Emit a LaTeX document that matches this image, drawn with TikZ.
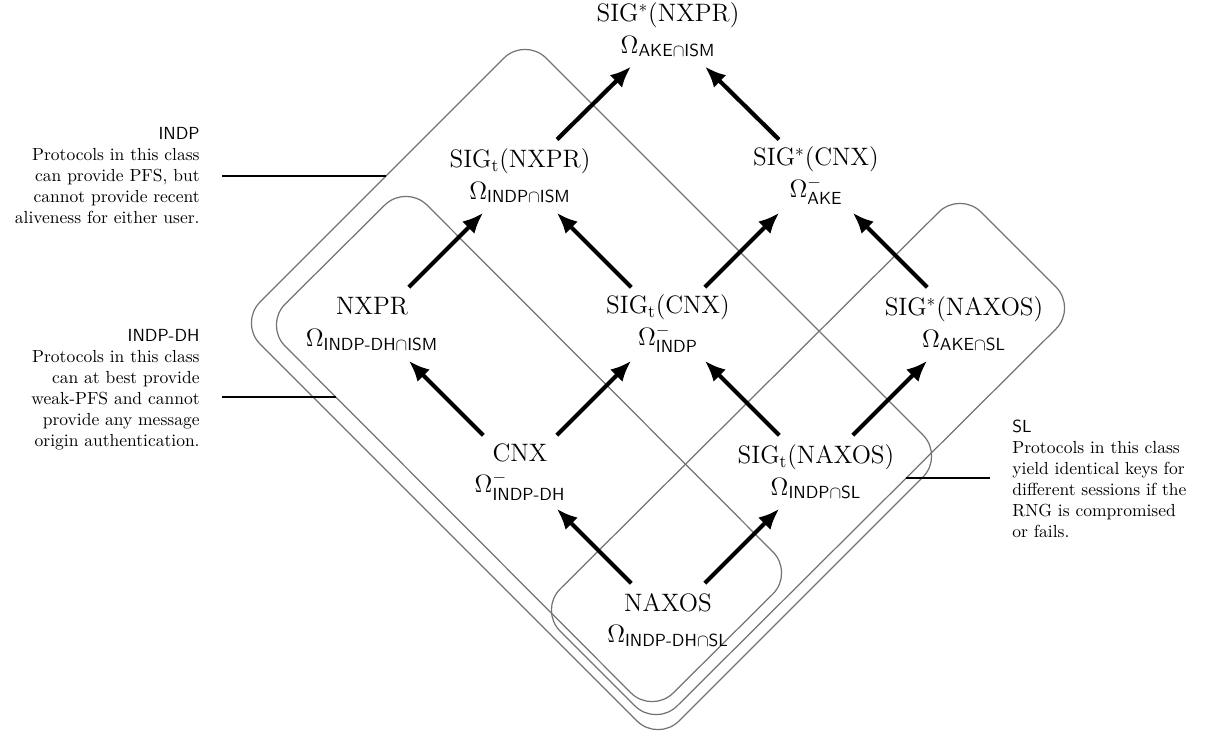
\documentclass[tikz,border=0pt]{standalone}
\usepackage{amsmath}
\usetikzlibrary{arrows.meta,calc}
\begin{document}
\begin{tikzpicture}[x=0.5714pt,y=-0.5714pt,
  pnode/.style={align=center,font=\Large,inner sep=0pt},
  arr/.style={line width=2.4pt,-{Latex[length=12pt,width=10pt]},shorten <=29.7pt,shorten >=29.7pt},
  region/.style={draw=black!55,line width=0.7pt,rounded corners=17.1pt},
  ann/.style={font=\normalsize,inner xsep=12.6pt,inner ysep=0pt},
  annline/.style={line width=1.2pt}]
\useasboundingbox (0,0) rectangle (1205,736);

% regions
\draw[region] (525,37) -- (944,456) -- (658,742) -- (239,323) -- cycle;
\draw[region] (406,184) -- (794,573) -- (652,714) -- (264,325) -- cycle;
\draw[region] (539,610) -- (960,191) -- (1077,308) -- (656,727) -- cycle;

% nodes
\node[pnode] (sNX) at (668,30)  {SIG$^*$(NXPR)\\$\Omega_{\textsf{AKE}\cap\textsf{ISM}}$};
\node[pnode] (tNX) at (520,176) {SIG$_{\mathrm{t}}$(NXPR)\\$\Omega_{\textsf{INDP}\cap\textsf{ISM}}$};
\node[pnode] (sCN) at (816,176) {SIG$^*$(CNX)\\$\Omega^{-}_{\textsf{AKE}}$};
\node[pnode] (NX)  at (372,324) {NXPR\\$\Omega_{\textsf{INDP-DH}\cap\textsf{ISM}}$};
\node[pnode] (tCN) at (668,324) {SIG$_{\mathrm{t}}$(CNX)\\$\Omega^{-}_{\textsf{INDP}}$};
\node[pnode] (sNA) at (964,324) {SIG$^*$(NAXOS)\\$\Omega_{\textsf{AKE}\cap\textsf{SL}}$};
\node[pnode] (CN)  at (520,472) {CNX\\$\Omega^{-}_{\textsf{INDP-DH}}$};
\node[pnode] (tNA) at (816,472) {SIG$_{\mathrm{t}}$(NAXOS)\\$\Omega_{\textsf{INDP}\cap\textsf{SL}}$};
\node[pnode] (NA)  at (668,620) {NAXOS\\$\Omega_{\textsf{INDP-DH}\cap\textsf{SL}}$};

% arrows
\draw[arr] (tNX.center) -- (sNX.center);
\draw[arr] (sCN.center) -- (sNX.center);
\draw[arr] (NX.center) -- (tNX.center);
\draw[arr] (tCN.center) -- (tNX.center);
\draw[arr] (tCN.center) -- (sCN.center);
\draw[arr] (sNA.center) -- (sCN.center);
\draw[arr] (CN.center) -- (NX.center);
\draw[arr] (CN.center) -- (tCN.center);
\draw[arr] (tNA.center) -- (tCN.center);
\draw[arr] (tNA.center) -- (sNA.center);
\draw[arr] (NA.center) -- (CN.center);
\draw[arr] (NA.center) -- (tNA.center);

% annotations
\node[ann,anchor=east,align=right] (aINDP) at (222,176)
  {\textsf{INDP}\\Protocols in this class\\can provide PFS, but\\cannot provide recent\\aliveness for either user.};
\coordinate (eINDP) at (386,176);
\draw[annline] (aINDP.east) -- (eINDP);

\node[ann,anchor=east,align=right] (aDH) at (222,390)
  {\textsf{INDP-DH}\\Protocols in this class\\can at best provide\\weak-PFS and cannot\\provide any message\\origin authentication.};
\coordinate (eDH) at (336,397);
\draw[annline] (aDH.east |- eDH) -- (eDH);

\node[ann,anchor=west,align=left] (aSL) at (990,479)
  {\textsf{SL}\\Protocols in this class\\yield identical keys for\\different sessions if the\\RNG is compromised\\or fails.};
\coordinate (eSL) at (906,478);
\draw[annline] (aSL.west |- eSL) -- (eSL);
\end{tikzpicture}
\end{document}
